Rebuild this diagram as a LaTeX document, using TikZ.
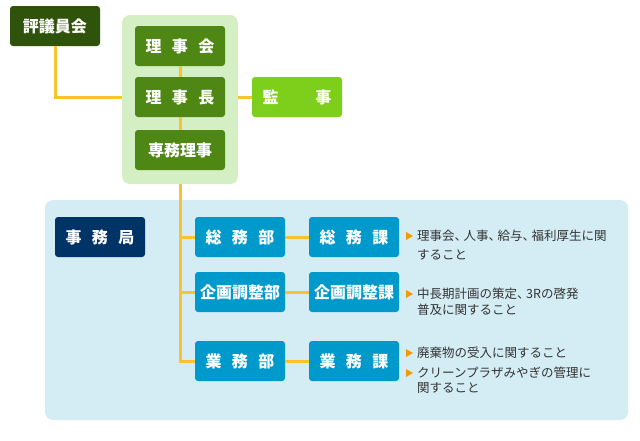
\documentclass[tikz,border=0pt]{standalone}
\usepackage{fontspec}
\setmainfont{Noto Sans CJK JP}
\usetikzlibrary{positioning}
\definecolor{hyogicol}{HTML}{2F530A}
\definecolor{boardbg}{HTML}{D4EFC4}
\definecolor{boardcol}{HTML}{4E8713}
\definecolor{kanjicol}{HTML}{7ECF1B}
\definecolor{officebg}{HTML}{D4EDF4}
\definecolor{navycol}{HTML}{003366}
\definecolor{deptcol}{HTML}{0099CC}
\definecolor{linkcol}{HTML}{F9C22E}
\definecolor{tricol}{HTML}{F39A00}
\definecolor{textcol}{HTML}{333333}
\newcommand{\jgap}{\hspace{0.65em}}
\newcommand{\jcomma}{、\hspace{-3.5pt}}
\tikzset{
  box/.style={rounded corners=3pt, minimum width=90pt, minimum height=40pt,
    inner sep=0pt, text=white, font=\fontsize{16}{16}\selectfont\bfseries},
  panel/.style={rounded corners=8pt, inner sep=0pt},
  link/.style={draw=linkcol, line width=3pt},
  desc/.style={anchor=north west, inner sep=0pt, align=left, text=textcol,
    font=\fontsize{12.5}{15}\selectfont},
  tri/.style={fill=tricol}
}
\begin{document}
\begin{tikzpicture}[x=1pt, y=-1pt]
    \useasboundingbox (0,0) rectangle (640,440);
    % Paneles
    \node[panel, fill=boardbg, minimum width=116pt, minimum height=169pt] (board) at (180,99.5) {};
    \node[panel, fill=officebg, minimum width=583pt, minimum height=220pt] (office) at (336.5,310) {};
    % Consejo
    \node[box, fill=hyogicol] (hyogi) at (55,26) {評議員会};
    \node[box, fill=boardcol] (rijikai) at (180,46) {理\jgap 事\jgap 会};
    \node[box, fill=boardcol] (chair) at (180,97) {理\jgap 事\jgap 長};
    \node[box, fill=boardcol] (senmu) at (180,150) {専務理事};
    \node[box, fill=kanjicol] (kanji) at (297,97) {監\hspace{2.3em}事};
    % Secretaria
    \node[box, fill=navycol] (jimu) at (100,237) {事\jgap 務\jgap 局};
    \node[box, fill=deptcol] (somubu) at (240,237) {総\jgap 務\jgap 部};
    \node[box, fill=deptcol] (kikakubu) at (240,292) {企画調整部};
    \node[box, fill=deptcol] (gyomubu) at (240,361) {業\jgap 務\jgap 部};
    \node[box, fill=deptcol] (somuka) at (354,237) {総\jgap 務\jgap 課};
    \node[box, fill=deptcol] (kikakuka) at (354,292) {企画調整課};
    \node[box, fill=deptcol] (gyomuka) at (354,361) {業\jgap 務\jgap 課};
    % Lineas
    \draw[link] (hyogi.south) |- (board.west |- chair.west);
    \draw[link] (board.east |- chair.east) -- (kanji.west);
    \draw[link] (rijikai) -- (chair) -- (senmu);
    \draw[link] (board.south) |- (somubu.west);
    \draw[link] (board.south) |- (kikakubu.west);
    \draw[link] (board.south) |- (gyomubu.west);
    \draw[link] (somubu) -- (somuka);
    \draw[link] (kikakubu) -- (kikakuka);
    \draw[link] (gyomubu) -- (gyomuka);
    % Funciones
    \node[desc] (desc1) at (417,229.5) {理事会\jcomma 人事\jcomma 給与\jcomma 福利厚生に関\\[4pt]すること};
    \node[desc] (desc2) at (417,287.5) {中長期計画の策定\jcomma 3Rの啓発\\[1pt]普及に関すること};
    \node[desc] (desc3) at (417,346.5) {廃棄物の受入に関すること};
    \node[desc] (desc4) at (417,366.5) {クリーンプラザみやぎの管理に\\関すること};
    \fill[tri] (406,232) -- ++(7,4) -- ++(-7,4) -- cycle;
    \fill[tri] (406,290) -- ++(7,4) -- ++(-7,4) -- cycle;
    \fill[tri] (406,349) -- ++(7,4) -- ++(-7,4) -- cycle;
    \fill[tri] (406,369) -- ++(7,4) -- ++(-7,4) -- cycle;
\end{tikzpicture}
\end{document}
